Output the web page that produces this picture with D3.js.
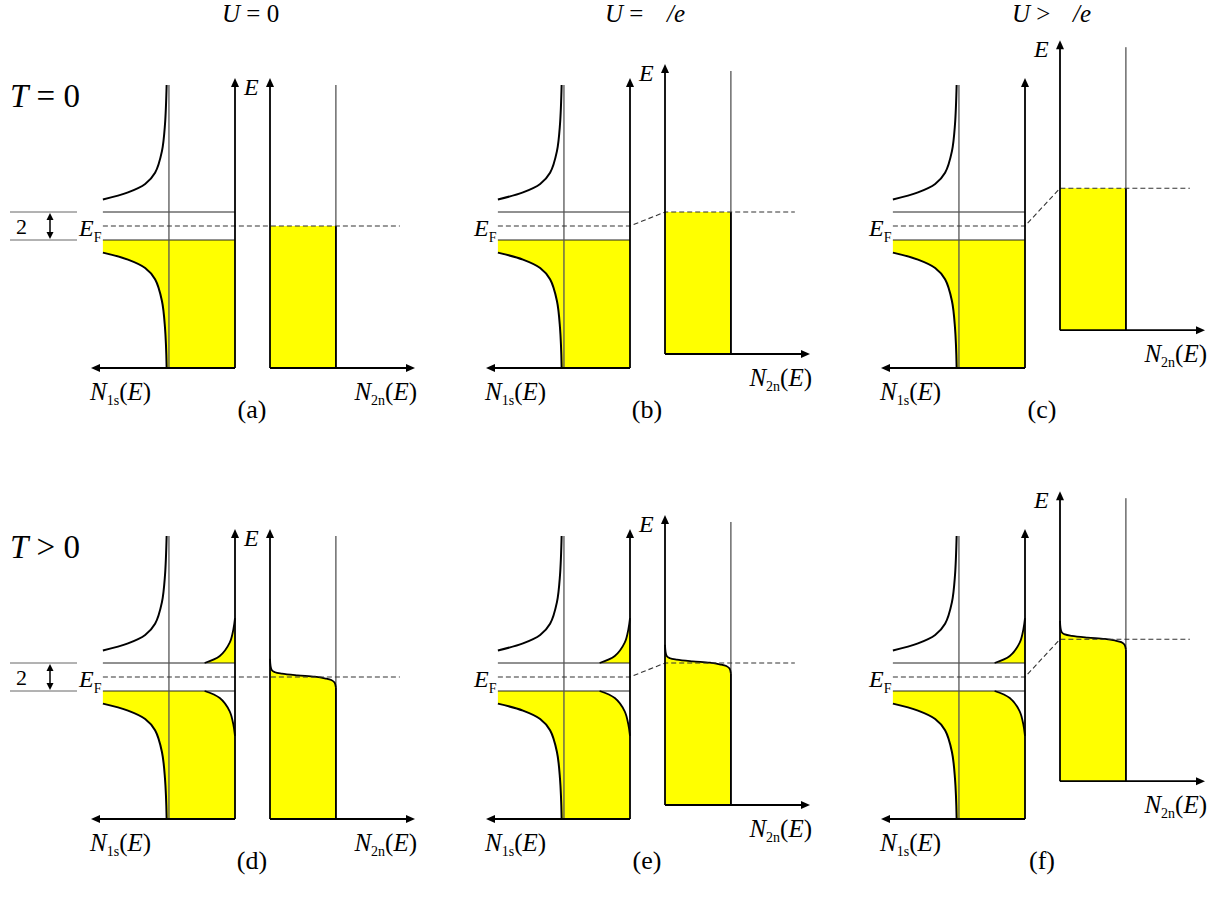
<!DOCTYPE html>
<html><head><meta charset="utf-8">
<script src="https://cdn.jsdelivr.net/npm/d3@7"></script>
<style>body{margin:0;background:#fff}</style>
</head><body><script>
// ---------------- data ----------------
const panelLabels = ["(a)", "(b)", "(c)", "(d)", "(e)", "(f)"];
const rowOps = ["=", ">"];            // T = 0 , T > 0
const rowValue = ["0", "0"];
const titleOps = ["=", "=", ">"];     // U = 0, U = Δ/e, U > Δ/e
const titleTail = ["0", "/e", "/e"];
const columnBias = [0, 1.0, 2.7];     // eU in units of Δ
const gapEdge = 1;                    // Δ
const normalN = 1;                    // normal-state DOS
// BCS-like density of states of the superconductor (|E| in units of Δ)
const bcsE = [1.9, 2.4, 3.0, 3.8, 5.35, 7.25, 10.07];
const bcsN = [2.0, 1.62, 1.36, 1.21, 1.106, 1.06, 1.035];
// thermally excited quasiparticles near the gap edge (T > 0)
const thermalE = [1.0, 1.5, 2.45, 3.4, 4.2];
const thermalN = [0.46, 0.23, 0.08, 0.025, 0.0];
// smeared Fermi edge of the normal metal (T > 0)
const fermiE = [1.3, 0.5, 0.34, 0.24, 0.12, 0.02, -0.09, -0.21, -0.4, -0.75];
const fermiOcc = [0, 0.026, 0.076, 0.18, 0.42, 0.68, 0.83, 0.93, 0.98, 1.0];

// ---------------- layout ----------------
const W = 1226, H = 907;
const colX = [235, 630, 1025];
const rowY = [0, 451];
const titleStart = [-13, -25, -13];
const titleTailX = [0, 37, 48];
const E_MIN = -10.14, E_TOP = 10.57, E_LINE = 10.07;
const yE = d3.scaleLinear().domain([E_MIN, E_TOP]).range([368, 78]);
const YELLOW = "#ffff00";

const svg = d3.select("body").append("svg").attr("width", W).attr("height", H)
  .style("font-family", "'Liberation Serif','Times New Roman',serif");

function head(g, x, y, dir, len = 9, wid = 8) {
  let p;
  if (dir === "up") p = [[x, y], [x - wid / 2, y + len], [x + wid / 2, y + len]];
  if (dir === "down") p = [[x, y], [x - wid / 2, y - len], [x + wid / 2, y - len]];
  if (dir === "left") p = [[x, y], [x + len, y - wid / 2], [x + len, y + wid / 2]];
  if (dir === "right") p = [[x, y], [x - len, y - wid / 2], [x - len, y + wid / 2]];
  g.append("path").attr("d", "M" + p.join("L") + "Z").attr("fill", "#000");
}
function seg(g, x1, y1, x2, y2, stroke, sw, dash) {
  const l = g.append("line").attr("x1", x1).attr("y1", y1).attr("x2", x2).attr("y2", y2)
    .attr("stroke", stroke).attr("stroke-width", sw);
  if (dash) l.attr("stroke-dasharray", dash);
  return l;
}
function label(g, x, y, parts, anchor) {
  const t = g.append("text").attr("x", x).attr("y", y).attr("text-anchor", anchor || "start");
  parts.forEach(p => {
    const s = t.append("tspan").text(p.t).style("font-size", p.s + "px");
    if (p.i) s.style("font-style", "italic");
    if (p.dy) s.attr("dy", p.dy);
    if (p.x !== undefined) s.attr("x", p.x);
  });
  return t;
}

const upperPts = bcsE.map((e, i) => [bcsN[i], e]);
const lowerPts = bcsE.map((e, i) => [bcsN[i], -e]).concat([[bcsN[bcsN.length - 1], E_MIN]]);
const thermUp = thermalE.map((e, i) => [thermalN[i], e]);
const thermLo = thermalE.map((e, i) => [thermalN[i], -e]);
const fermiPts = fermiE.map((e, i) => [fermiOcc[i], e]);

for (let r = 0; r < 2; r++) {
  const hot = r === 1;
  const rowG = svg.append("g").attr("transform", `translate(0,${rowY[r]})`);
  for (let c = 0; c < 3; c++) {
    const X0 = colX[c], bias = columnBias[c];
    const g = rowG.append("g");
    const xL = d3.scaleLinear().domain([0, 2.18]).range([X0, X0 - 144]);
    const xR = d3.scaleLinear().domain([0, 2.2]).range([X0 + 35, X0 + 180]);
    const lineL = d3.line().x(d => xL(d[0])).y(d => yE(d[1])).curve(d3.curveCatmullRom.alpha(0.5));
    const lineR = d3.line().x(d => xR(d[0])).y(d => yE(d[1])).curve(d3.curveCatmullRom.alpha(0.5));
    const Lp = (n, e) => xL(n) + "," + yE(e);
    const Rp = (n, e) => xR(n) + "," + yE(e);

    // ----- fills -----
    const lowerCurveUp = lineL(lowerPts.slice().reverse()); // bottom -> gap edge
    let lowerFill;
    if (!hot) {
      lowerFill = lowerCurveUp + "L" + Lp(2, -gapEdge) + "L" + Lp(0, -gapEdge) + "L" + Lp(0, E_MIN) + "Z";
    } else {
      lowerFill = lowerCurveUp + "L" + Lp(2, -gapEdge) + lineL(thermLo).replace(/^M/, "L") + "L" + Lp(0, E_MIN) + "Z";
    }
    g.append("path").attr("d", lowerFill).attr("fill", YELLOW);
    if (hot) {
      g.append("path").attr("d", lineL(thermUp) + "L" + Lp(0, gapEdge) + "Z").attr("fill", YELLOW);
    }
    const rb = E_MIN + bias;
    if (!hot) {
      g.append("rect").attr("x", xR(0)).attr("y", yE(bias)).attr("width", xR(normalN) - xR(0))
        .attr("height", yE(rb) - yE(bias)).attr("fill", YELLOW);
    } else {
      const fp = fermiPts.map(d => [d[0], d[1] + bias]);
      g.append("path").attr("d", "M" + Rp(0, rb) + lineR(fp).replace(/^M/, "L") + "L" + Rp(1, rb) + "Z").attr("fill", YELLOW);
    }

    // ----- gap edge lines -----
    [gapEdge, -gapEdge].forEach(e => seg(g, xL(2), yE(e), xL(0), yE(e), "#222", 1));
    // ----- normal DOS reference lines -----
    seg(g, xL(normalN), yE(E_MIN), xL(normalN), yE(E_LINE), "#555", 1.3);
    seg(g, xR(normalN), yE(rb), xR(normalN), yE(E_LINE + bias), "#222", 1);
    // right edge of filled states
    seg(g, xR(normalN), yE(rb), xR(normalN), yE(hot ? fermiE[fermiE.length - 1] + bias : bias), "#000", 1.8);

    // ----- BCS curves -----
    g.append("path").attr("d", lineL(upperPts)).attr("fill", "none").attr("stroke", "#000").attr("stroke-width", 2);
    g.append("path").attr("d", lineL(lowerPts)).attr("fill", "none").attr("stroke", "#000").attr("stroke-width", 2);
    if (hot) {
      g.append("path").attr("d", lineL(thermUp)).attr("fill", "none").attr("stroke", "#000").attr("stroke-width", 1.8);
      g.append("path").attr("d", lineL(thermLo)).attr("fill", "none").attr("stroke", "#000").attr("stroke-width", 1.8);
      g.append("path").attr("d", lineR(fermiPts.map(d => [d[0], d[1] + bias]))).attr("fill", "none").attr("stroke", "#000").attr("stroke-width", 1.8);
    }

    // ----- Fermi level (dashed) -----
    g.append("path").attr("d", "M" + Lp(2, 0) + "L" + Lp(0, 0) + "L" + Rp(0, bias) + "L" + Rp(1.97, bias))
      .attr("fill", "none").attr("stroke", "#333").attr("stroke-width", 1.1).attr("stroke-dasharray", "5,3");

    // ----- axes -----
    seg(g, xL(0), yE(E_MIN), xL(0), yE(E_TOP) + 8, "#000", 1.8);
    head(g, xL(0), yE(E_TOP), "up");
    seg(g, xL(0), yE(E_MIN), xL(2.18) + 8, yE(E_MIN), "#000", 1.8);
    head(g, xL(2.18), yE(E_MIN), "left");
    seg(g, xR(0), yE(rb), xR(0), yE(E_TOP + bias) + 8, "#000", 1.8);
    head(g, xR(0), yE(E_TOP + bias), "up");
    seg(g, xR(0), yE(rb), xR(2.2) - 8, yE(rb), "#000", 1.8);
    head(g, xR(2.2), yE(rb), "right");

    // ----- labels -----
    label(g, X0 + 9, yE(E_TOP + bias) + 17, [{ t: "E", s: 24, i: true }]);
    label(g, X0 - 156, yE(0) + 10, [{ t: "E", s: 24, i: true }, { t: "F", s: 14, dy: 6 }]);
    label(g, X0 - 145, yE(E_MIN) + 32, [{ t: "N", s: 25, i: true }, { t: "1s", s: 14, dy: 5 }, { t: "(", s: 25, dy: -5 }, { t: "E", s: 25, i: true }, { t: ")", s: 25 }]);
    label(g, X0 + 182, yE(rb) + 32, [{ t: "N", s: 25, i: true }, { t: "2n", s: 14, dy: 5 }, { t: "(", s: 25, dy: -5 }, { t: "E", s: 25, i: true }, { t: ")", s: 25 }], "end");
    label(g, X0 + 17, 418, [{ t: panelLabels[r * 3 + c], s: 26 }], "middle");

    // column titles
    if (r === 0) {
      const parts = [{ t: "U", s: 25, i: true }, { t: " " + titleOps[c] + " ", s: 25 }];
      if (c === 0) parts.push({ t: titleTail[c], s: 25 });
      else parts.push({ t: "/", s: 25, i: true, x: X0 + titleTailX[c] }, { t: "e", s: 25, i: true });
      label(svg, X0 + titleStart[c], 22, parts);
    }
  }
  // 2Δ marker and row label
  seg(rowG, 10, yE(gapEdge), 77, yE(gapEdge), "#666", 1);
  seg(rowG, 10, yE(-gapEdge), 77, yE(-gapEdge), "#666", 1);
  seg(rowG, 50, yE(gapEdge) + 6, 50, yE(-gapEdge) - 6, "#000", 1.5);
  head(rowG, 50, yE(gapEdge) + 1, "up", 7, 7);
  head(rowG, 50, yE(-gapEdge) - 1, "down", 7, 7);
  label(rowG, 16, yE(0) + 8, [{ t: "2", s: 22 }]);
  label(rowG, 10, 107, [{ t: "T", s: 33, i: true }, { t: " " + rowOps[r] + " " + rowValue[r], s: 33 }]);
}
</script></body></html>
